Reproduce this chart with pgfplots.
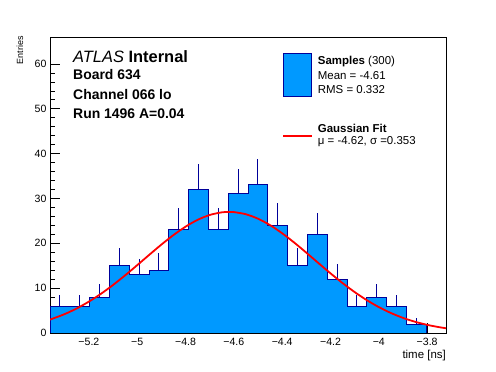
\documentclass[border=0pt]{standalone}
\usepackage{pgfplots}
\pgfplotsset{compat=1.18}
\usepackage{fontspec}
\setmainfont{Liberation Sans}
\definecolor{histfill}{RGB}{0,153,255}
\definecolor{histline}{RGB}{0,0,153}
\begin{document}
\begin{tikzpicture}
\useasboundingbox (0,0) rectangle (496bp,372bp);
\begin{axis}[
  at={(50bp,39bp)}, anchor=south west,
  scale only axis, width=396bp, height=296bp,
  xmin=-5.361, xmax=-3.722, ymin=0, ymax=66,
  axis line style={line width=0.8bp},
  tick align=inside, tick pos=left,
  major tick length=10bp, minor tick length=5bp,
  every tick/.style={black, line width=0.6bp},
  xtick={-5.2,-5,-4.8,-4.6,-4.4,-4.2,-4,-3.8},
  xticklabels={−5.2,−5,−4.8,−4.6,−4.4,−4.2,−4,−3.8},
  ytick={0,10,20,30,40,50,60},
  minor x tick num=3, minor y tick num=4,
  /pgf/number format/assume math mode=true,
  ticklabel style={font=\fontsize{10.6}{12}\selectfont},
  xticklabel style={yshift=-2bp},
  clip=true,
]
\addplot[const plot, fill=histfill, draw=histline, line width=1bp] coordinates {
(-5.361,6) (-5.27905,6) (-5.1971,8) (-5.11515,15) (-5.0332,13) (-4.95125,14)
(-4.8693,23) (-4.78735,32) (-4.7054,23) (-4.62345,31) (-4.5415,33) (-4.45955,24)
(-4.3776,15) (-4.29565,22) (-4.2137,12) (-4.13175,6) (-4.0498,8) (-3.96785,6)
(-3.8859,2) (-3.80395,0) (-3.722,0)} \closedcycle;
\addplot[draw=none, mark=none, error bars/.cd, y dir=plus, y explicit,
  error mark=none, error bar style={draw=histline, line width=1bp, solid}] coordinates {
(-5.32003,6) +- (0,2.449)
(-5.23808,6) +- (0,2.449)
(-5.15613,8) +- (0,2.828)
(-5.07418,15) +- (0,3.873)
(-4.99223,13) +- (0,3.606)
(-4.91028,14) +- (0,3.742)
(-4.82833,23) +- (0,4.796)
(-4.74638,32) +- (0,5.657)
(-4.66443,23) +- (0,4.796)
(-4.58248,31) +- (0,5.568)
(-4.50053,33) +- (0,5.745)
(-4.41858,24) +- (0,4.899)
(-4.33663,15) +- (0,3.873)
(-4.25468,22) +- (0,4.690)
(-4.17273,12) +- (0,3.464)
(-4.09078,6) +- (0,2.449)
(-4.00883,8) +- (0,2.828)
(-3.92688,6) +- (0,2.449)
(-3.84493,2) +- (0,1.414)
};
\addplot[red, line width=1.8bp, smooth, mark=none] coordinates {
(-5.361,2.982) (-5.30,4.223) (-5.25,5.491) (-5.20,7.001) (-5.15,8.746)
(-5.10,10.711) (-5.05,12.857) (-5.00,15.126) (-4.95,17.441) (-4.90,19.713)
(-4.85,21.836) (-4.80,23.708) (-4.75,25.230) (-4.70,26.316) (-4.65,26.903)
(-4.62,27.000) (-4.60,26.957) (-4.55,26.474) (-4.50,25.484) (-4.45,24.044)
(-4.40,22.234) (-4.35,20.153) (-4.30,17.903) (-4.25,15.588) (-4.20,13.303)
(-4.15,11.128) (-4.10,9.123) (-4.05,7.331) (-4.00,5.775) (-3.95,4.459)
(-3.90,3.373) (-3.85,2.502) (-3.80,1.818) (-3.75,1.295) (-3.722,1.062)};
\end{axis}
% axis titles
\node[anchor=base east, inner sep=0, font=\fontsize{11.5}{13}\selectfont] at (446bp,14bp) {time [ns]};
\node[rotate=90, anchor=base east, inner sep=0, font=\fontsize{9}{11}\selectfont] at (23bp,336bp) {Entries};
% ATLAS label
\node[anchor=base west, inner sep=0, font=\fontsize{16.5}{18}\selectfont] at (73bp,309.7bp) {\textit{ATLAS} \textbf{Internal}};
\node[anchor=base west, inner sep=0, font=\fontsize{14}{16}\selectfont\bfseries] at (73bp,292bp) {Board 634};
\node[anchor=base west, inner sep=0, font=\fontsize{14}{16}\selectfont\bfseries] at (73bp,272.7bp) {Channel 066 lo};
\node[anchor=base west, inner sep=0, font=\fontsize{14}{16}\selectfont\bfseries] at (73bp,253.3bp) {Run 1496 A=0.04};
% legend
\filldraw[fill=histfill, draw=histline, line width=1bp] (283.3bp,275.3bp) rectangle (311.7bp,318.7bp);
\draw[red, line width=2bp] (283.3bp,236bp) -- (311.7bp,236bp);
\node[anchor=base west, inner sep=0, font=\fontsize{11.5}{13}\selectfont] at (317.7bp,307bp) {\textbf{Samples} (300)};
\node[anchor=base west, inner sep=0, font=\fontsize{11.5}{13}\selectfont] at (317.7bp,292bp) {Mean = -4.61};
\node[anchor=base west, inner sep=0, font=\fontsize{11.5}{13}\selectfont] at (317.7bp,278bp) {RMS = 0.332};
\node[anchor=base west, inner sep=0, font=\fontsize{11.5}{13}\selectfont] at (317.7bp,239.3bp) {\textbf{Gaussian Fit}};
\node[anchor=base west, inner sep=0, font=\fontsize{11.5}{13}\selectfont] at (317.7bp,227.7bp) {μ = -4.62, σ =0.353};
\end{tikzpicture}
\end{document}
